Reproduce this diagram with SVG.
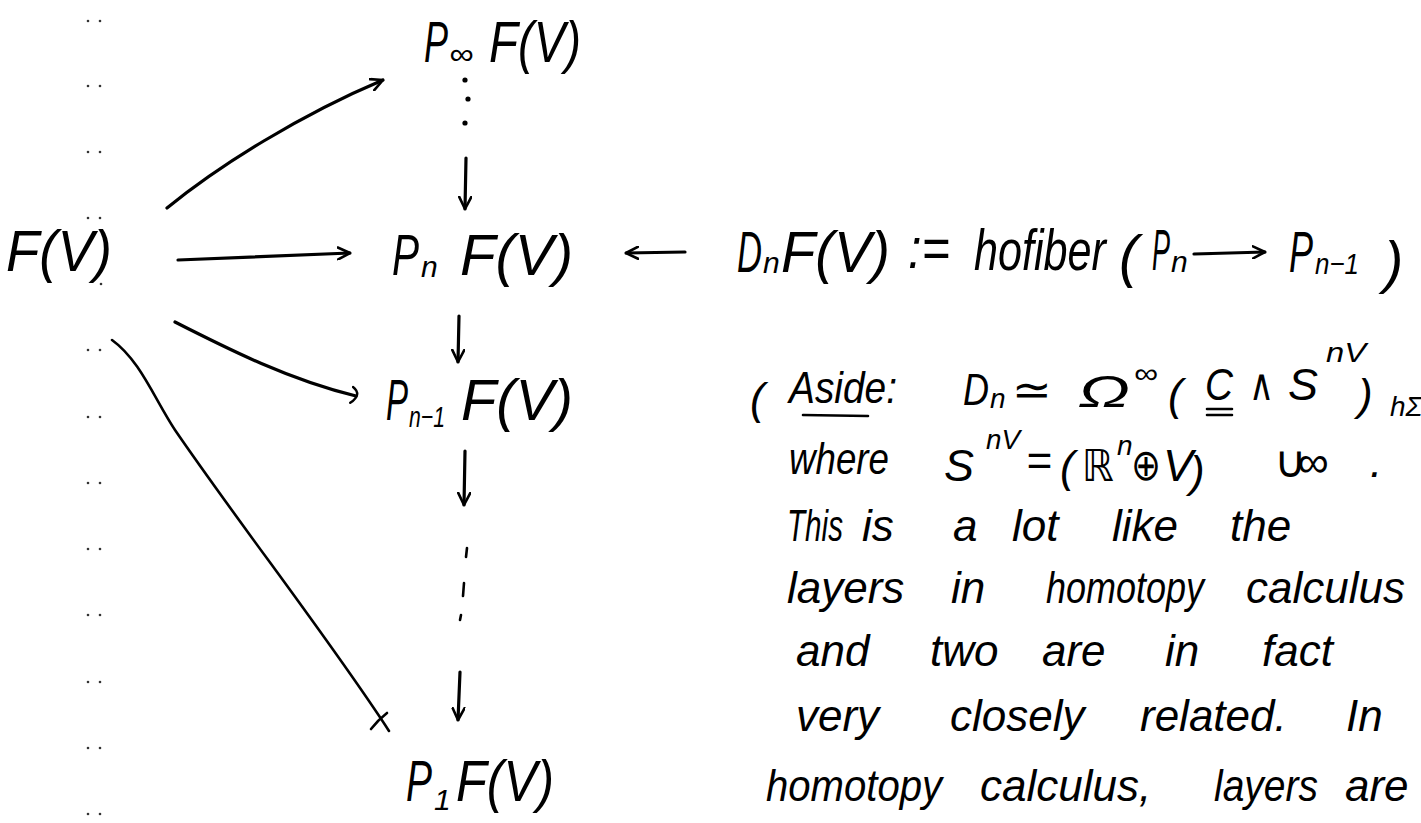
<svg xmlns="http://www.w3.org/2000/svg" width="1421" height="823" viewBox="0 0 1421 823">
  <style>
    text { font-family: "Liberation Sans", "DejaVu Sans", sans-serif; font-style: italic; fill: #000; }
    .big { font-size: 58px; }
    .sub { font-size: 30px; }
    .w { font-size: 44px; }
    .sup { font-size: 28px; }
    .edge { fill: none; stroke: #000; stroke-width: 3.2; stroke-linecap: round; stroke-linejoin: round; }
    .thin { fill: none; stroke: #000; stroke-width: 2.6; stroke-linecap: round; stroke-linejoin: round; }
    .dot { fill: #000; }
    .mdot { fill: #333; }
  </style>
  <defs>
    <marker id="head" viewBox="0 0 14 14" refX="13" refY="7" markerWidth="14" markerHeight="14" markerUnits="userSpaceOnUse" orient="auto">
      <path d="M1,1 L13,7 L1,13" fill="none" stroke="#000" stroke-width="2.6" stroke-linecap="round" stroke-linejoin="round"/>
    </marker>
    <marker id="hook" viewBox="0 0 14 20" refX="6" refY="10" markerWidth="14" markerHeight="20" markerUnits="userSpaceOnUse" orient="auto">
      <path d="M1,2 Q12,7 2,18" fill="none" stroke="#000" stroke-width="2.4" stroke-linecap="round"/>
    </marker>
  </defs>

  <rect width="1421" height="823" fill="#fff"/>

  <!-- margin dot column -->
  <g id="margin" class="mdot">
    <circle cx="88" cy="21" r="1.3"/><circle cx="100" cy="21" r="1.3"/>
    <circle cx="88" cy="86" r="1.3"/><circle cx="100" cy="86" r="1.3"/>
    <circle cx="88" cy="152" r="1.3"/><circle cx="100" cy="152" r="1.3"/>
    <circle cx="88" cy="218" r="1.3"/><circle cx="100" cy="218" r="1.3"/>
    <circle cx="101" cy="284" r="1.3"/>
    <circle cx="88" cy="350" r="1.3"/><circle cx="100" cy="350" r="1.3"/>
    <circle cx="88" cy="417" r="1.3"/><circle cx="100" cy="417" r="1.3"/>
    <circle cx="88" cy="483" r="1.3"/><circle cx="100" cy="483" r="1.3"/>
    <circle cx="88" cy="549" r="1.3"/><circle cx="100" cy="549" r="1.3"/>
    <circle cx="88" cy="615" r="1.3"/><circle cx="100" cy="615" r="1.3"/>
    <circle cx="88" cy="682" r="1.3"/><circle cx="100" cy="682" r="1.3"/>
    <circle cx="88" cy="748" r="1.3"/><circle cx="100" cy="748" r="1.3"/>
    <circle cx="88" cy="814" r="1.3"/><circle cx="100" cy="814" r="1.3"/>
  </g>

  <!-- connectors -->
  <g id="connectors">
    <path class="edge" d="M167,208 C220,165 300,115 383,80" marker-end="url(#head)"/>
    <path class="edge" d="M178,260 L350,253" marker-end="url(#head)"/>
    <path class="edge" d="M175,322 C230,350 290,380 356,396" marker-end="url(#hook)"/>
    <path class="thin" d="M112,340 C140,360 155,400 175,430 C240,525 330,640 389,731"/>
    <path class="thin" d="M371,729 Q378,720 387,713"/>
    <!-- vertical tower -->
    <circle class="dot" cx="465" cy="80" r="2.6"/>
    <circle class="dot" cx="468" cy="99" r="2.6"/>
    <circle class="dot" cx="465" cy="123" r="2.6"/>
    <path class="edge" d="M466,158 L465,209" marker-end="url(#head)"/>
    <path class="edge" d="M459,316 L458,362" marker-end="url(#head)"/>
    <path class="edge" d="M465,451 L464,505" marker-end="url(#head)"/>
    <path class="thin" d="M467,548 L466,557"/>
    <path class="thin" d="M464,583 L463,596"/>
    <path class="thin" d="M461,615 L460,620"/>
    <path class="edge" d="M460,672 L458,720" marker-end="url(#head)"/>
    <path class="edge" d="M685,252 L626,253" marker-end="url(#head)"/>
  </g>

  <!-- F(V) -->
  <g id="node-F">
    <text class="big" x="6" y="271" textLength="106" lengthAdjust="spacingAndGlyphs">F(V)</text>
  </g>

  <!-- P_∞ F(V) -->
  <g id="node-Pinf">
    <text class="big" x="424" y="62" font-size="66" textLength="24" lengthAdjust="spacingAndGlyphs">P</text>
    <text class="sub" x="449" y="64" textLength="24" lengthAdjust="spacingAndGlyphs">∞</text>
    <text class="big" x="489" y="62" textLength="92" lengthAdjust="spacingAndGlyphs">F(V)</text>
  </g>

  <!-- P_n F(V) -->
  <g id="node-Pn">
    <text class="big" x="392" y="275" textLength="27" lengthAdjust="spacingAndGlyphs">P</text>
    <text class="sub" x="421" y="277">n</text>
    <text class="big" x="460" y="275" textLength="113" lengthAdjust="spacingAndGlyphs">F(V)</text>
  </g>

  <!-- P_{n-1} F(V) -->
  <g id="node-Pn1">
    <text class="big" x="386" y="420" textLength="22" lengthAdjust="spacingAndGlyphs">P</text>
    <text class="sub" x="409" y="427" textLength="36" lengthAdjust="spacingAndGlyphs">n−1</text>
    <text class="big" x="461" y="420" textLength="112" lengthAdjust="spacingAndGlyphs">F(V)</text>
  </g>

  <!-- P_1 F(V) -->
  <g id="node-P1">
    <text class="big" x="406" y="801" textLength="26" lengthAdjust="spacingAndGlyphs">P</text>
    <text class="sub" x="434" y="810" font-size="24">1</text>
    <text class="big" x="456" y="801" textLength="98" lengthAdjust="spacingAndGlyphs">F(V)</text>
  </g>

  <!-- D_n F(V) := hofiber(P_n -> P_{n-1}) -->
  <g id="node-Dn">
    <text class="big" x="737" y="272" textLength="25" lengthAdjust="spacingAndGlyphs">D</text>
    <text class="sub" x="763" y="273" font-size="18">n</text>
    <text class="big" x="781" y="272" textLength="109" lengthAdjust="spacingAndGlyphs">F(V)</text>
    <text class="big" x="908" y="268" textLength="42" lengthAdjust="spacingAndGlyphs">:=</text>
    <text class="big" x="974" y="270" textLength="132" lengthAdjust="spacingAndGlyphs">hofiber</text>
    <text class="big" x="1119" y="276" font-size="58">(</text>
    <text class="big" x="1152" y="270" textLength="18" lengthAdjust="spacingAndGlyphs">P</text>
    <text class="sub" x="1171" y="272" font-size="22">n</text>
    <path class="edge" d="M1194,254 L1265,252" marker-end="url(#head)"/>
    <text class="big" x="1289" y="272" textLength="24" lengthAdjust="spacingAndGlyphs">P</text>
    <text class="sub" x="1315" y="274" font-size="26" textLength="44" lengthAdjust="spacingAndGlyphs">n−1</text>
    <text class="big" x="1384" y="282" font-size="76">)</text>
  </g>

  <!-- aside note -->
  <g id="aside">
    <text class="w" x="750" y="414" font-size="72">(</text>
    <text class="w" x="789" y="403" textLength="108" lengthAdjust="spacingAndGlyphs">Aside:</text>
    <path class="thin" d="M803,415 L868,416"/>
    <text class="w" x="963" y="405" textLength="26" lengthAdjust="spacingAndGlyphs">D</text>
    <text class="sup" x="990" y="408" font-size="20">n</text>
    <text class="w" x="1012" y="405" textLength="40" lengthAdjust="spacingAndGlyphs">≃</text>
    <text class="w" x="1078" y="407" textLength="52" lengthAdjust="spacingAndGlyphs">Ω</text>
    <text class="sup" x="1134" y="383" textLength="24" lengthAdjust="spacingAndGlyphs">∞</text>
    <text class="w" x="1168" y="410" font-size="66">(</text>
    <text class="w" x="1205" y="400" textLength="28" lengthAdjust="spacingAndGlyphs">C</text>
    <path class="thin" d="M1207,409 L1232,409 M1207,415 L1232,415"/>
    <text class="w" x="1249" y="400" textLength="25" lengthAdjust="spacingAndGlyphs">∧</text>
    <text class="w" x="1288" y="400" textLength="30" lengthAdjust="spacingAndGlyphs">S</text>
    <text class="sup" x="1326" y="362" textLength="40" lengthAdjust="spacingAndGlyphs">nV</text>
    <text class="w" x="1358" y="410" font-size="84">)</text>
    <text class="sup" x="1390" y="416" font-size="25">hΣ</text>

    <text class="w" x="789" y="474" textLength="100" lengthAdjust="spacingAndGlyphs">where</text>
    <text class="w" x="944" y="481" textLength="30" lengthAdjust="spacingAndGlyphs">S</text>
    <text class="sup" x="986" y="449" textLength="34" lengthAdjust="spacingAndGlyphs">nV</text>
    <text class="w" x="1026" y="476" font-size="34">=</text>
    <text class="w" x="1060" y="482" font-size="64">(</text>
    <text class="w" x="1082" y="481" textLength="32" lengthAdjust="spacingAndGlyphs">ℝ</text>
    <text class="sup" x="1117" y="455" font-size="22">n</text>
    <text class="w" x="1131" y="480" textLength="30" lengthAdjust="spacingAndGlyphs">⊕</text>
    <text class="w" x="1163" y="481" textLength="30" lengthAdjust="spacingAndGlyphs">V</text>
    <text class="w" x="1190" y="487" font-size="70">)</text>
    <text class="w" x="1274" y="477">∪</text>
    <text class="w" x="1297" y="477">∞</text>
    <text class="w" x="1370" y="477">.</text>

    <text class="w" x="787" y="541" textLength="56" lengthAdjust="spacingAndGlyphs">This</text>
    <text class="w" x="862" y="541">is</text>
    <text class="w" x="953" y="541">a</text>
    <text class="w" x="1012" y="541">lot</text>
    <text class="w" x="1112" y="541">like</text>
    <text class="w" x="1230" y="541">the</text>

    <text class="w" x="787" y="603">layers</text>
    <text class="w" x="951" y="603">in</text>
    <text class="w" x="1046" y="603" textLength="158" lengthAdjust="spacingAndGlyphs">homotopy</text>
    <text class="w" x="1246" y="603">calculus</text>

    <text class="w" x="796" y="666">and</text>
    <text class="w" x="930" y="666">two</text>
    <text class="w" x="1042" y="666">are</text>
    <text class="w" x="1165" y="666">in</text>
    <text class="w" x="1262" y="666" font-size="50">fact</text>

    <text class="w" x="796" y="731">very</text>
    <text class="w" x="950" y="731">closely</text>
    <text class="w" x="1140" y="731" font-size="48">related.</text>
    <text class="w" x="1346" y="731" font-size="50">In</text>

    <text class="w" x="766" y="801" textLength="176" lengthAdjust="spacingAndGlyphs">homotopy</text>
    <text class="w" x="980" y="801">calculus,</text>
    <text class="w" x="1214" y="801" textLength="104" lengthAdjust="spacingAndGlyphs">layers</text>
    <text class="w" x="1345" y="801">are</text>
  </g>
</svg>
